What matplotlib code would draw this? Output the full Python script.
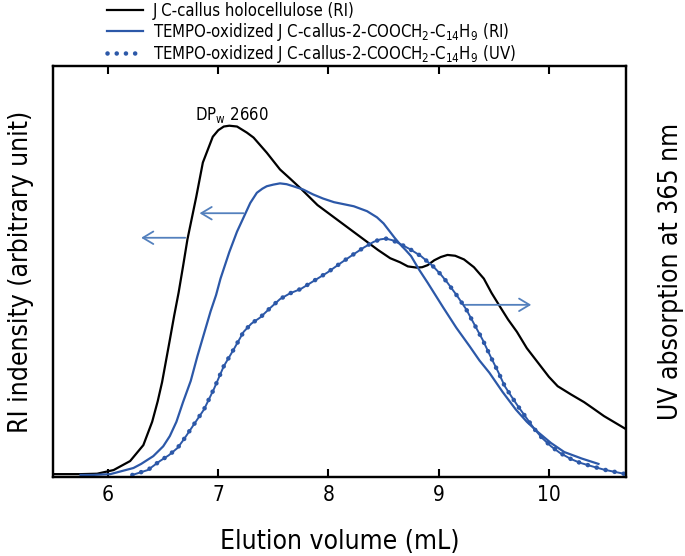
import matplotlib
matplotlib.use('Agg')
import matplotlib.pyplot as plt

plt.rcParams['font.family'] = 'DejaVu Sans'
plt.rcParams['font.stretch'] = 'condensed'
plt.rcParams['mathtext.fontset'] = 'custom'
plt.rcParams['mathtext.rm'] = 'DejaVu Sans:stretch=condensed'
plt.rcParams['mathtext.it'] = 'DejaVu Sans:italic:stretch=condensed'

# holocellulose RI trace
x_holo = [5.50, 5.75, 5.90, 6.05, 6.20, 6.32, 6.40, 6.45, 6.49, 6.56, 6.60, 6.64, 6.68, 6.72,
          6.80, 6.86, 6.95, 7.00, 7.05, 7.10, 7.17, 7.26, 7.32, 7.44, 7.56, 7.65, 7.75, 7.90,
          8.00, 8.10, 8.20, 8.35, 8.45, 8.56, 8.65, 8.72, 8.80, 8.85, 8.90, 8.96, 9.02, 9.08,
          9.15, 9.23, 9.32, 9.41, 9.48, 9.56, 9.63, 9.71, 9.80, 9.90, 10.00, 10.08, 10.20,
          10.32, 10.40, 10.50, 10.60, 10.70]
y_holo = [0.2, 0.2, 0.3, 1.2, 3.4, 7.3, 13, 18, 22.7, 33, 39, 44.6, 51, 57.6,
          68, 76.4, 82.7, 84.3, 85.2, 85.4, 85.2, 83.7, 82.5, 78.8, 74.7, 72.5, 70, 66,
          64, 62, 60, 57, 55, 53, 52, 51, 50.7, 50.8, 51.3, 52.5, 53.3, 53.8,
          53.6, 52.7, 50.8, 48, 44.5, 41, 38, 35, 31, 27.5, 24, 21.7, 19.7,
          17.8, 16.3, 14.4, 12.8, 11.2]

# TEMPO-oxidized RI trace
x_tempo_ri = [5.75, 5.86, 6.02, 6.23, 6.30, 6.41, 6.50, 6.56, 6.62, 6.68, 6.75, 6.81, 6.87,
              6.93, 6.98, 7.02, 7.10, 7.17, 7.23, 7.29, 7.35, 7.40, 7.44, 7.50, 7.56, 7.62,
              7.68, 7.77, 7.86, 7.95, 8.05, 8.14, 8.23, 8.35, 8.44, 8.50, 8.56, 8.60, 8.65,
              8.70, 8.75, 8.82, 8.90, 8.97, 9.04, 9.16, 9.28, 9.37, 9.46, 9.58, 9.70, 9.80,
              9.90, 10.02, 10.14, 10.30, 10.45]
y_tempo_ri = [0, 0, 0.2, 1.7, 2.7, 4.6, 7, 9.5, 13, 17.8, 23, 29, 34.5,
              40, 44, 48, 54.5, 59.5, 63, 66.5, 69, 70, 70.6, 71, 71.3, 71.1,
              70.6, 69.8, 68.6, 67.6, 66.7, 66.2, 65.7, 64.5, 63, 61.5, 59.4, 58, 56.4,
              55, 53.5, 50.3, 47, 44, 41, 36, 31.5, 28, 25, 20.3, 16, 13,
              10.5, 7.8, 5.6, 4, 2.7]

# TEMPO-oxidized UV trace
x_tempo_uv = [6.22, 6.36, 6.47, 6.55, 6.63, 6.69, 6.75, 6.81, 6.87, 6.96, 7.05, 7.14, 7.23,
              7.30, 7.38, 7.47, 7.56, 7.65, 7.75, 7.87, 7.99, 8.11, 8.23, 8.32, 8.41, 8.47,
              8.52, 8.58, 8.65, 8.74, 8.84, 8.95, 9.02, 9.08, 9.17, 9.25, 9.32, 9.40, 9.47,
              9.54, 9.60, 9.66, 9.72, 9.80, 9.87, 9.94, 10.02, 10.10, 10.20, 10.28, 10.38,
              10.50, 10.68]
y_tempo_uv = [0, 1.2, 3.4, 4.8, 6.6, 8.8, 11.2, 13.6, 16, 21, 26.6, 30.7, 35,
              37, 38.5, 40.8, 43, 44.4, 45.5, 47.5, 49.5, 51.8, 54, 55.6, 57, 57.6,
              57.8, 57.4, 56.5, 55.2, 53.5, 51, 49, 47, 43.7, 40.5, 37, 33, 29,
              25.2, 21.7, 19.2, 16.8, 13.8, 11.2, 9, 7, 5.4, 3.9, 3, 2.2,
              1.3, 0.3]

labels = ['J C-callus holocellulose (RI)',
          'TEMPO-oxidized J C-callus-2-COOCH$_2$-C$_{14}$H$_9$ (RI)',
          'TEMPO-oxidized J C-callus-2-COOCH$_2$-C$_{14}$H$_9$ (UV)']

blue = '#2c58a8'
arrow_c = '#5380bd'

fig = plt.figure(figsize=(6.85, 5.56), dpi=100)
ax = fig.add_axes([53/685, 1-477/556, 573/685, 411/556])
ax2 = ax.twinx()

h1, = ax.plot(x_holo, y_holo, color='black', lw=1.6)
h2, = ax.plot(x_tempo_ri, y_tempo_ri, color=blue, lw=1.6)
ax2.plot(x_tempo_uv, y_tempo_uv, color=blue, lw=1.4)
h3, = ax2.plot(x_tempo_uv, y_tempo_uv, color=blue, lw=3.3, linestyle=(0, (0.01, 2.0)),
               dash_capstyle='round')

for a in (ax, ax2):
    a.set_xlim(5.5, 10.7)
    a.set_ylim(-0.5, 100)
    a.set_yticks([])
ax.set_xticks([6, 7, 8, 9, 10])
ax.tick_params(axis='x', direction='in', top=True, length=6, width=1.5, labelsize=15, pad=6)
for s in ax.spines.values():
    s.set_linewidth(1.6)
for s in ax2.spines.values():
    s.set_linewidth(1.6)

ax.set_xlabel('Elution volume (mL)', fontsize=19, labelpad=17)
ax.set_ylabel('RI indensity (arbitrary unit)', fontsize=19, labelpad=14)
ax2.set_ylabel('UV absorption at 365 nm', fontsize=19, labelpad=23)

ax.text(6.79, 88, 'DP$_\\mathrm{w}$ 2660', fontsize=12, ha='left', va='center')

arr = dict(arrowstyle='->, head_length=0.5, head_width=0.3', color=arrow_c, lw=1.3,
           mutation_scale=15, shrinkA=0, shrinkB=0)
ax.annotate('', xy=(6.30, 58), xytext=(6.70, 58), arrowprops=arr)
ax.annotate('', xy=(6.83, 64), xytext=(7.23, 64), arrowprops=arr)
ax.annotate('', xy=(9.84, 41.6), xytext=(9.23, 41.6), arrowprops=arr)

fig.legend([h1, h2, h3], labels, loc='upper left', bbox_to_anchor=(107/685, 0.996),
           frameon=False, fontsize=12, handlelength=2.15, handletextpad=0.6,
           labelspacing=0.02, borderpad=0, borderaxespad=0)

fig.savefig('out.png', dpi=100)
